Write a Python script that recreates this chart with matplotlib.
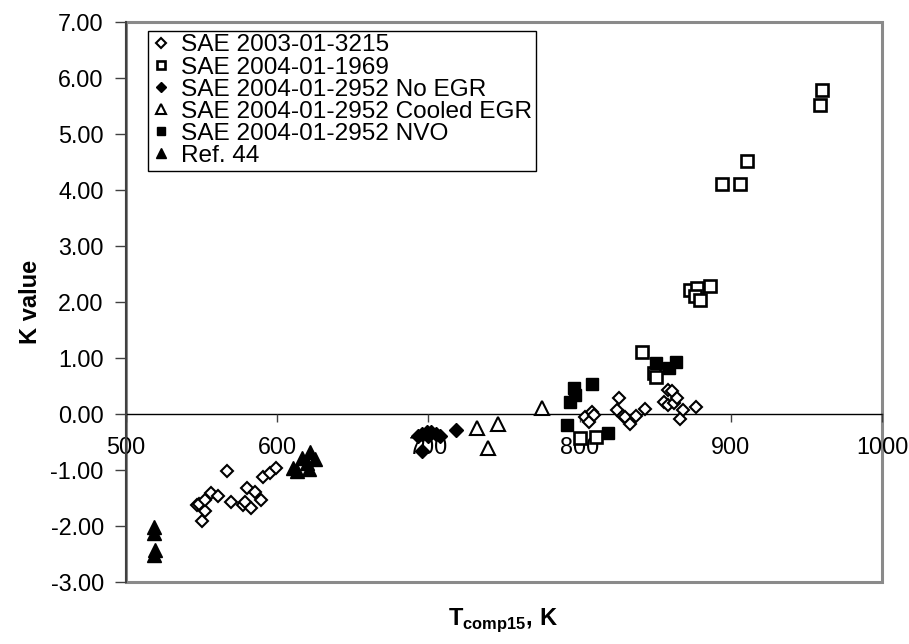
import matplotlib
matplotlib.use("Agg")
import matplotlib.pyplot as plt
from matplotlib.patches import Rectangle

plt.rcParams['font.family'] = ['Liberation Sans', 'DejaVu Sans']
plt.rcParams['mathtext.fontset'] = 'custom'
plt.rcParams['mathtext.bf'] = 'Liberation Sans:bold'
plt.rcParams['mathtext.rm'] = 'Liberation Sans'

# --- data ---
sae2003_x = [546.7, 548.5, 550.4, 552.5, 552.4, 556.2, 560.6, 567.0, 569.6, 577.4, 579.0,
             580.0, 583.0, 585.2, 589.0, 590.8, 595.3, 599.5,
             803.6, 806.5, 808.0, 809.5, 826.3, 824.5, 828.5, 830.0, 833.3, 837.3, 843.3,
             855.8, 858.7, 860.9, 858.7, 862.5, 864.2, 868.2, 866.4, 877.0]
sae2003_y = [-1.63, -1.60, -1.92, -1.74, -1.54, -1.42, -1.47, -1.02, -1.57, -1.62, -1.58,
             -1.33, -1.68, -1.40, -1.53, -1.13, -1.05, -0.96,
             -0.05, -0.14, 0.04, -0.02, 0.29, 0.07, -0.03, -0.06, -0.18, -0.04, 0.09,
             0.21, 0.43, 0.41, 0.16, 0.20, 0.28, 0.07, -0.09, 0.13]

sae1969_x = [960.3, 959.3, 910.8, 894.2, 906.4, 873.1, 877.6, 886.0, 876.4, 879.4,
             841.0, 849.2, 850.3, 800.3, 810.8]
sae1969_y = [5.78, 5.51, 4.51, 4.11, 4.11, 2.22, 2.25, 2.28, 2.10, 2.04,
             1.10, 0.73, 0.65, -0.43, -0.41]

noegr_x = [693.0, 696.0, 699.0, 702.0, 705.0, 708.0, 700.0, 695.6, 718.0]
noegr_y = [-0.40, -0.35, -0.32, -0.33, -0.36, -0.40, -0.40, -0.67, -0.29]

cooled_x = [732.0, 746.3, 739.6, 775.3]
cooled_y = [-0.26, -0.18, -0.60, 0.11]

nvo_x = [791.5, 793.8, 796.5, 797.0, 808.0, 818.5, 850.5, 859.0, 863.8]
nvo_y = [-0.20, 0.22, 0.46, 0.34, 0.54, -0.34, 0.91, 0.82, 0.93]

ref44_x = [518.8, 518.8, 519.2, 518.5, 610.7, 613.0, 616.2, 619.5, 621.0, 621.7, 624.8]
ref44_y = [-2.02, -2.12, -2.43, -2.52, -0.97, -1.02, -0.78, -0.88, -0.98, -0.68, -0.80]

series_labels = ['SAE 2003-01-3215', 'SAE 2004-01-1969', 'SAE 2004-01-2952 No EGR',
                 'SAE 2004-01-2952 Cooled EGR', 'SAE 2004-01-2952 NVO', 'Ref. 44']

x_ticks = [500, 600, 700, 800, 900, 1000]
y_ticks = [-3, -2, -1, 0, 1, 2, 3, 4, 5, 6, 7]

fig = plt.figure(figsize=(9.09, 6.44), dpi=100)
ax = fig.add_axes([0.1386, 0.0963, 0.8317, 0.870])

mk = dict(linestyle='none')
ax.plot(sae2003_x, sae2003_y, marker='D', ms=6.6, mfc='white', mec='black', mew=1.5,
        label=series_labels[0], **mk)
ax.plot(sae1969_x, sae1969_y, marker='s', ms=8.2, mfc='white', mec='black', mew=1.9,
        label=series_labels[1], **mk)
ax.plot(noegr_x, noegr_y, marker='D', ms=7.2, mfc='black', mec='black', mew=1.0,
        label=series_labels[2], **mk)
ax.plot(cooled_x, cooled_y, marker='^', ms=9.5, mfc='white', mec='black', mew=1.5,
        label=series_labels[3], **mk)
ax.plot(nvo_x, nvo_y, marker='s', ms=8.5, mfc='black', mec='black', mew=1.0,
        label=series_labels[4], **mk)
ax.plot(ref44_x, ref44_y, marker='^', ms=10.5, mfc='black', mec='black', mew=1.0,
        label=series_labels[5], **mk)

ax.set_xlim(500, 1000)
ax.set_ylim(-3, 7)
ax.set_xticks(x_ticks)
ax.set_yticks(y_ticks)
ax.set_xticklabels([str(v) for v in x_ticks])
ax.set_yticklabels([f'{v:.2f}' for v in y_ticks])

for s in ['top', 'right']:
    ax.spines[s].set_visible(False)
ax.spines['bottom'].set_position(('data', 0))
ax.spines['bottom'].set_color('black')
ax.spines['bottom'].set_linewidth(1.0)
ax.spines['bottom'].set_zorder(1)
ax.spines['left'].set_color('#404040')
ax.spines['left'].set_linewidth(1.5)

ax.add_patch(Rectangle((0, 0), 1, 1, transform=ax.transAxes, fill=False,
                       edgecolor='#8a8a8a', lw=2.2, clip_on=False, zorder=0.5))

ax.tick_params(axis='x', direction='out', length=6, width=1, color='#404040',
               labelsize=16.8, pad=10)
ax.tick_params(axis='y', direction='out', length=8, width=1, color='#404040',
               labelsize=16.8, pad=8)

fig.text(0.034, 0.531, 'K value', fontsize=17, fontweight='bold', rotation=90,
         ha='center', va='center')
fig.text(0.553, 0.037, r'$\mathbf{T}_{\mathbf{comp15}}$' + ', K', fontsize=17,
         fontweight='bold', ha='center', va='center')

leg = ax.legend(loc='upper left', bbox_to_anchor=(0.029, 0.984), borderaxespad=0,
                fontsize=17.6, frameon=True, fancybox=False, edgecolor='black',
                framealpha=1, labelspacing=0.0, handlelength=0.8,
                handletextpad=0.4, borderpad=0.15, markerscale=0.7)
leg.get_frame().set_linewidth(1.0)

fig.savefig('out.png', dpi=100)
